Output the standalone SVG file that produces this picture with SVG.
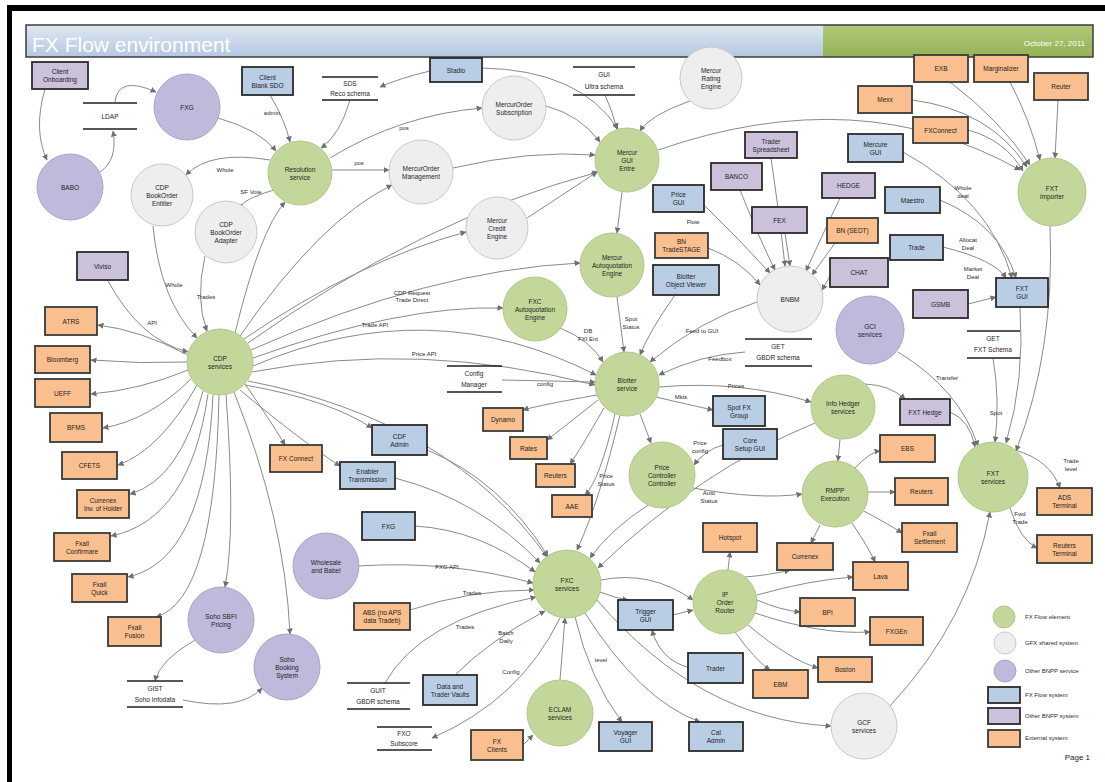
<svg xmlns="http://www.w3.org/2000/svg" width="1105" height="782" viewBox="0 0 1105 782">
<defs>
<linearGradient id="tb" x1="0" y1="0" x2="0" y2="1"><stop offset="0" stop-color="#dfe8f3"/><stop offset="1" stop-color="#b3c8e0"/></linearGradient>
<linearGradient id="tg" x1="0" y1="0" x2="0" y2="1"><stop offset="0" stop-color="#b0c97a"/><stop offset="1" stop-color="#94b254"/></linearGradient>
<marker id="a" markerWidth="6" markerHeight="6" refX="5.5" refY="3" orient="auto" markerUnits="userSpaceOnUse"><path d="M0,0 L6,3 L0,6 z" fill="#6f6f6f"/></marker>
</defs>
<style>
.t{font-family:"Liberation Sans",Arial,sans-serif;font-size:6.5px;fill:#1e1e1e;text-anchor:middle}
.l{font-family:"Liberation Sans",Arial,sans-serif;font-size:6px;fill:#2a2a2a;text-anchor:middle}
.cg{fill:#c4d79b;stroke:#b2c78a;stroke-width:1}
.cw{fill:#eeeeee;stroke:#c9c9c9;stroke-width:1}
.cp{fill:#bfb9dc;stroke:#aaa4cc;stroke-width:1}
.rb{fill:#b9cde4;stroke:#2b2b2b;stroke-width:1.8}
.rp{fill:#ccc1da;stroke:#2b2b2b;stroke-width:1.8}
.ro{fill:#f9bf8f;stroke:#3a3a3a;stroke-width:1.8}
.ds{stroke:#1e1e1e;stroke-width:1.6}
#edges path{fill:none;stroke:#8a8a8a;stroke-width:1;marker-end:url(#a)}
</style>
<rect width="1105" height="782" fill="#ffffff"/>
<rect x="7" y="5" width="1098" height="6" fill="#000"/>
<rect x="7" y="5" width="5" height="777" fill="#000"/>
<g id="title">
<rect x="26" y="25" width="797" height="32" fill="url(#tb)"/>
<rect x="823" y="25" width="270" height="32" fill="url(#tg)"/>
<rect x="26" y="25" width="1067" height="32" fill="none" stroke="#3c3c3c" stroke-width="1.5"/>
<text x="32" y="52" style="font-family:'Liberation Sans',Arial,sans-serif;font-size:21px;fill:#ffffff">FX Flow environment</text>
<text x="1085" y="46" style="font-family:'Liberation Sans',Arial,sans-serif;font-size:8px;fill:#ffffff;text-anchor:end">October 27, 2011</text>
</g>
<g id="edges">
<path d="M45 89 Q33 130 47 160"/>
<path d="M100 172 Q118 160 113 131"/>
<path d="M115 102 Q118 75 156 92"/>
<path d="M108 281 Q140 340 188 352"/>
<path d="M188 355 Q140 330 98 325"/>
<path d="M187 362 Q140 364 91 360"/>
<path d="M188 370 Q140 390 91 394"/>
<path d="M192 378 Q150 420 103 428"/>
<path d="M197 385 Q160 450 118 465"/>
<path d="M203 391 Q180 480 130 494"/>
<path d="M208 394 Q190 520 111 536"/>
<path d="M213 395 Q205 560 128 577"/>
<path d="M219 395 Q215 600 156 617"/>
<path d="M226 395 Q236 530 225 587"/>
<path d="M234 392 Q285 520 290 634"/>
<path d="M245 384 Q270 420 285 445"/>
<path d="M153 226 Q160 300 197 338"/>
<path d="M205 256 Q195 300 207 331"/>
<path d="M270 160 Q210 150 186 175"/>
<path d="M274 190 Q240 200 240 209"/>
<path d="M218 118 Q260 130 276 151"/>
<path d="M270 95 Q285 120 290 142"/>
<path d="M350 100 Q340 135 321 148"/>
<path d="M332 170 L389 170"/>
<path d="M330 158 Q400 115 482 108"/>
<path d="M430 71 Q400 78 380 87"/>
<path d="M482 68 Q580 70 618 129"/>
<path d="M605 95 Q612 110 617 129"/>
<path d="M690 101 Q650 115 640 131"/>
<path d="M546 106 Q580 115 600 142"/>
<path d="M453 168 Q530 150 595 155"/>
<path d="M527 218 Q570 190 597 172"/>
<path d="M622 192 L617 233"/>
<path d="M658 150 Q860 80 1020 170"/>
<path d="M235 333 Q260 230 285 202"/>
<path d="M240 336 Q320 220 392 185"/>
<path d="M244 339 Q360 260 466 232"/>
<path d="M248 343 Q420 220 598 172"/>
<path d="M251 350 Q430 270 580 263"/>
<path d="M253 358 Q400 305 503 308"/>
<path d="M253 366 Q430 290 596 375"/>
<path d="M252 372 Q420 340 595 385"/>
<path d="M248 381 Q450 420 547 557"/>
<path d="M245 385 Q330 400 372 428"/>
<path d="M240 390 Q300 440 340 466"/>
<path d="M427 450 Q500 480 548 556"/>
<path d="M395 478 Q480 500 540 563"/>
<path d="M415 526 Q480 530 535 572"/>
<path d="M358 566 Q450 560 533 583"/>
<path d="M410 610 Q470 590 534 590"/>
<path d="M385 683 Q420 620 536 597"/>
<path d="M455 675 Q490 640 545 611"/>
<path d="M560 618 Q520 700 432 738"/>
<path d="M560 680 L565 618"/>
<path d="M523 745 L533 735"/>
<path d="M575 617 Q590 680 622 722"/>
<path d="M585 613 Q640 700 700 722"/>
<path d="M597 600 Q700 720 831 726"/>
<path d="M601 580 Q650 570 693 600"/>
<path d="M600 592 Q615 598 628 600"/>
<path d="M673 615 L693 610"/>
<path d="M690 668 Q660 660 652 630"/>
<path d="M648 505 Q610 530 590 558"/>
<path d="M620 415 Q600 500 577 550"/>
<path d="M815 423 Q700 470 598 568"/>
<path d="M597 395 Q540 405 523 410"/>
<path d="M598 400 Q560 430 547 440"/>
<path d="M604 408 Q580 450 570 464"/>
<path d="M615 414 Q600 480 585 495"/>
<path d="M502 380 L595 382"/>
<path d="M560 328 Q590 340 603 362"/>
<path d="M617 297 L624 352"/>
<path d="M675 295 Q650 330 640 355"/>
<path d="M757 302 Q700 320 650 362"/>
<path d="M745 352 Q700 355 659 375"/>
<path d="M659 387 Q740 380 811 402"/>
<path d="M656 397 Q690 405 713 410"/>
<path d="M640 414 L651 443"/>
<path d="M723 445 Q705 450 694 465"/>
<path d="M693 488 Q760 500 802 494"/>
<path d="M704 205 Q740 240 770 273"/>
<path d="M708 248 Q740 260 760 285"/>
<path d="M771 158 Q780 220 785 266"/>
<path d="M740 190 Q760 240 775 270"/>
<path d="M785 233 L790 266"/>
<path d="M840 198 Q820 240 806 271"/>
<path d="M835 243 L812 275"/>
<path d="M830 276 L822 290"/>
<path d="M903 152 Q990 200 1012 278"/>
<path d="M940 200 Q1000 225 1016 278"/>
<path d="M943 247 Q995 260 1006 278"/>
<path d="M968 304 L996 297"/>
<path d="M1020 307 Q1025 380 1006 443"/>
<path d="M1050 226 Q1055 350 1016 451"/>
<path d="M950 82 Q1000 120 1030 165"/>
<path d="M1010 82 Q1030 120 1040 160"/>
<path d="M1058 100 L1055 158"/>
<path d="M912 100 Q990 110 1027 167"/>
<path d="M968 130 Q1005 140 1023 171"/>
<path d="M898 352 Q960 390 978 446"/>
<path d="M993 358 Q1000 400 995 442"/>
<path d="M950 412 Q970 420 975 447"/>
<path d="M865 384 Q890 385 905 399"/>
<path d="M1015 450 Q1050 460 1060 488"/>
<path d="M1010 508 Q1020 540 1037 548"/>
<path d="M890 706 Q970 620 990 512"/>
<path d="M840 439 L838 461"/>
<path d="M855 468 Q870 452 880 451"/>
<path d="M868 492 L895 492"/>
<path d="M862 510 Q890 525 902 533"/>
<path d="M852 523 Q870 550 875 562"/>
<path d="M820 525 L811 543"/>
<path d="M728 570 L730 552"/>
<path d="M745 577 Q770 575 790 570"/>
<path d="M757 600 Q780 610 800 612"/>
<path d="M755 613 Q820 635 870 632"/>
<path d="M748 625 Q790 660 818 668"/>
<path d="M735 632 Q755 660 770 670"/>
<path d="M757 595 Q810 580 853 577"/>
<path d="M195 640 Q160 660 155 681"/>
<path d="M183 700 Q240 712 262 688"/>
</g>
<g id="edge-labels">
<text class="l" x="272" y="115">admin</text>
<text class="l" x="225" y="172">Whole</text>
<text class="l" x="251" y="194">SF Vote</text>
<text class="l" x="404" y="130">pos</text>
<text class="l" x="359" y="165">pos</text>
<text class="l" x="693" y="224">Flow</text>
<text class="l" x="963" y="190">Whole</text><text class="l" x="963" y="198">deal</text>
<text class="l" x="968" y="242">Allocat</text><text class="l" x="968" y="250">Deal</text>
<text class="l" x="973" y="271">Market</text><text class="l" x="973" y="279">Deal</text>
<text class="l" x="174" y="287">Whole</text>
<text class="l" x="206" y="299">Trades</text>
<text class="l" x="152" y="325">API</text>
<text class="l" x="412" y="295">CDP Request</text><text class="l" x="412" y="302">Trade Direct</text>
<text class="l" x="375" y="327">Trade API</text>
<text class="l" x="424" y="356">Price API</text>
<text class="l" x="545" y="386">config</text>
<text class="l" x="588" y="333">DB</text><text class="l" x="588" y="341">FXI Ent</text>
<text class="l" x="631" y="321">Spot</text><text class="l" x="631" y="329">Status</text>
<text class="l" x="702" y="333">Feed to GUI</text>
<text class="l" x="720" y="361">Feedbox</text>
<text class="l" x="736" y="388">Prices</text>
<text class="l" x="681" y="399">Mkts</text>
<text class="l" x="700" y="445">Price</text><text class="l" x="700" y="453">config</text>
<text class="l" x="606" y="478">Price</text><text class="l" x="606" y="486">Status</text>
<text class="l" x="709" y="495">Auto</text><text class="l" x="709" y="503">Status</text>
<text class="l" x="947" y="380">Transfer</text>
<text class="l" x="996" y="415">Spot</text>
<text class="l" x="1071" y="463">Trade</text><text class="l" x="1071" y="471">level</text>
<text class="l" x="1020" y="516">Fwd</text><text class="l" x="1020" y="524">Trade</text>
<text class="l" x="447" y="569">FXG API</text>
<text class="l" x="472" y="595">Trades</text>
<text class="l" x="465" y="629">Trades</text>
<text class="l" x="506" y="635">Batch</text><text class="l" x="506" y="643">Daily</text>
<text class="l" x="511" y="674">Config</text>
<text class="l" x="601" y="662">level</text>
</g>
<g id="datastores">
<g id="ds-ldap"><line class="ds" x1="83" y1="103" x2="137" y2="103"/><line class="ds" x1="83" y1="129" x2="137" y2="129"/><text class="t" x="110" y="119">LDAP</text></g>
<g id="ds-reco"><line class="ds" x1="322" y1="77" x2="378" y2="77"/><line class="ds" x1="322" y1="100" x2="378" y2="100"/><text class="t" x="350" y="86">SDS</text><text class="t" x="350" y="96">Reco schema</text></g>
<g id="ds-ultra"><line class="ds" x1="573" y1="67" x2="635" y2="67"/><line class="ds" x1="573" y1="95" x2="635" y2="95"/><text class="t" x="604" y="77">GUI</text><text class="t" x="604" y="89">Ultra schema</text></g>
<g id="ds-gbdr1"><line class="ds" x1="745" y1="339" x2="812" y2="339"/><line class="ds" x1="745" y1="366" x2="812" y2="366"/><text class="t" x="778" y="349">GET</text><text class="t" x="778" y="360">GBDR schema</text></g>
<g id="ds-fxt"><line class="ds" x1="967" y1="331" x2="1020" y2="331"/><line class="ds" x1="967" y1="358" x2="1020" y2="358"/><text class="t" x="993" y="341">GET</text><text class="t" x="993" y="352">FXT Schema</text></g>
<g id="ds-config"><line class="ds" x1="447" y1="366" x2="502" y2="366"/><line class="ds" x1="447" y1="392" x2="502" y2="392"/><text class="t" x="474" y="376">Config</text><text class="t" x="474" y="387">Manager</text></g>
<g id="ds-soho"><line class="ds" x1="127" y1="681" x2="183" y2="681"/><line class="ds" x1="127" y1="707" x2="183" y2="707"/><text class="t" x="155" y="691">GIST</text><text class="t" x="155" y="702">Soho Infodata</text></g>
<g id="ds-gbdr2"><line class="ds" x1="347" y1="683" x2="410" y2="683"/><line class="ds" x1="347" y1="709" x2="410" y2="709"/><text class="t" x="378" y="693">GUIT</text><text class="t" x="378" y="704">GBDR schema</text></g>
<g id="ds-fxo"><line class="ds" x1="377" y1="727" x2="432" y2="727"/><line class="ds" x1="377" y1="750" x2="432" y2="750"/><text class="t" x="404" y="736">FXO</text><text class="t" x="404" y="746">Subscore</text></g>
</g>
<g id="c_fxg"><circle class="cp" cx="187" cy="107" r="33"/><text class="t" x="187" y="109.5">FXG</text></g>
<g id="c_babo"><circle class="cp" cx="70" cy="187" r="33"/><text class="t" x="70" y="189.5">BABO</text></g>
<g id="c_gci"><circle class="cp" cx="870" cy="330" r="34"/><text class="t" x="870" y="328.5">GCI</text><text class="t" x="870" y="336.5">services</text></g>
<g id="c_wholesale"><circle class="cp" cx="326" cy="566" r="33"/><text class="t" x="326" y="564.5">Wholesale</text><text class="t" x="326" y="572.5">and Babel</text></g>
<g id="c_sohopricing"><circle class="cp" cx="221" cy="620" r="33"/><text class="t" x="221" y="618.5">Soho SBFI</text><text class="t" x="221" y="626.5">Pricing</text></g>
<g id="c_sohobooking"><circle class="cp" cx="287" cy="667" r="33"/><text class="t" x="287" y="661.5">Soho</text><text class="t" x="287" y="669.5">Booking</text><text class="t" x="287" y="677.5">System</text></g>
<g id="c_cdpent"><circle class="cw" cx="162" cy="195" r="31"/><text class="t" x="162" y="189.5">CDP</text><text class="t" x="162" y="197.5">BookOrder</text><text class="t" x="162" y="205.5">Entitler</text></g>
<g id="c_cdpadapt"><circle class="cw" cx="226" cy="232" r="31"/><text class="t" x="226" y="226.5">CDP</text><text class="t" x="226" y="234.5">BookOrder</text><text class="t" x="226" y="242.5">Adapter</text></g>
<g id="c_mos"><circle class="cw" cx="514" cy="108" r="32"/><text class="t" x="514" y="106.5">MercurOrder</text><text class="t" x="514" y="114.5">Subscription</text></g>
<g id="c_mom"><circle class="cw" cx="421" cy="172" r="32"/><text class="t" x="421" y="170.5">MercurOrder</text><text class="t" x="421" y="178.5">Management</text></g>
<g id="c_mce"><circle class="cw" cx="497" cy="228" r="31"/><text class="t" x="497" y="222.5">Mercur</text><text class="t" x="497" y="230.5">Credit</text><text class="t" x="497" y="238.5">Engine</text></g>
<g id="c_mre"><circle class="cw" cx="711" cy="78" r="31"/><text class="t" x="711" y="72.5">Mercur</text><text class="t" x="711" y="80.5">Rating</text><text class="t" x="711" y="88.5">Engine</text></g>
<g id="c_bnbm"><circle class="cw" cx="790" cy="299" r="33"/><text class="t" x="790" y="301.5">BNBM</text></g>
<g id="c_gcf"><circle class="cw" cx="864" cy="726" r="33"/><text class="t" x="864" y="724.5">GCF</text><text class="t" x="864" y="732.5">services</text></g>
<g id="c_res"><circle class="cg" cx="300" cy="173" r="32"/><text class="t" x="300" y="171.5">Resolution</text><text class="t" x="300" y="179.5">service</text></g>
<g id="c_mge"><circle class="cg" cx="627" cy="160" r="32"/><text class="t" x="627" y="154.5">Mercur</text><text class="t" x="627" y="162.5">GUI</text><text class="t" x="627" y="170.5">Entre</text></g>
<g id="c_mae"><circle class="cg" cx="612" cy="265" r="32"/><text class="t" x="612" y="259.5">Mercur</text><text class="t" x="612" y="267.5">Autoquotation</text><text class="t" x="612" y="275.5">Engine</text></g>
<g id="c_fae"><circle class="cg" cx="535" cy="309" r="32"/><text class="t" x="535" y="303.5">FXC</text><text class="t" x="535" y="311.5">Autoquotation</text><text class="t" x="535" y="319.5">Engine</text></g>
<g id="c_cdp"><circle class="cg" cx="220" cy="362" r="33"/><text class="t" x="220" y="360.5">CDP</text><text class="t" x="220" y="368.5">services</text></g>
<g id="c_blot"><circle class="cg" cx="627" cy="384" r="32"/><text class="t" x="627" y="382.5">Blotter</text><text class="t" x="627" y="390.5">service</text></g>
<g id="c_pcc"><circle class="cg" cx="662" cy="475" r="33"/><text class="t" x="662" y="469.5">Price</text><text class="t" x="662" y="477.5">Controller</text><text class="t" x="662" y="485.5">Controller</text></g>
<g id="c_ihs"><circle class="cg" cx="843" cy="407" r="32"/><text class="t" x="843" y="405.5">Info Hedger</text><text class="t" x="843" y="413.5">services</text></g>
<g id="c_rmpp"><circle class="cg" cx="835" cy="494" r="33"/><text class="t" x="835" y="492.5">RMPP</text><text class="t" x="835" y="500.5">Execution</text></g>
<g id="c_fxt"><circle class="cg" cx="993" cy="477" r="35"/><text class="t" x="993" y="475.5">FXT</text><text class="t" x="993" y="483.5">services</text></g>
<g id="c_fxti"><circle class="cg" cx="1052" cy="192" r="34"/><text class="t" x="1052" y="190.5">FXT</text><text class="t" x="1052" y="198.5">importer</text></g>
<g id="c_fxc"><circle class="cg" cx="567" cy="584" r="34"/><text class="t" x="567" y="582.5">FXC</text><text class="t" x="567" y="590.5">services</text></g>
<g id="c_ipor"><circle class="cg" cx="725" cy="602" r="32"/><text class="t" x="725" y="596.5">IP</text><text class="t" x="725" y="604.5">Order</text><text class="t" x="725" y="612.5">Router</text></g>
<g id="c_eclam"><circle class="cg" cx="560" cy="713" r="33"/><text class="t" x="560" y="711.5">ECLAM</text><text class="t" x="560" y="719.5">services</text></g>
<g id="r_onb"><rect class="rp" x="32" y="62" width="56" height="27"/><text class="t" x="60" y="74">Client</text><text class="t" x="60" y="82">Onboarding</text></g>
<g id="r_viv"><rect class="rp" x="77" y="252" width="51" height="28"/><text class="t" x="102.5" y="268.5">Viviso</text></g>
<g id="r_tsp"><rect class="rp" x="745" y="132" width="52" height="26"/><text class="t" x="771" y="143.5">Trader</text><text class="t" x="771" y="151.5">Spreadsheet</text></g>
<g id="r_banco"><rect class="rp" x="711" y="163" width="51" height="27"/><text class="t" x="736.5" y="179">BANCO</text></g>
<g id="r_fex"><rect class="rp" x="752" y="207" width="55" height="26"/><text class="t" x="779.5" y="222.5">FEX</text></g>
<g id="r_hedge"><rect class="rp" x="822" y="173" width="53" height="25"/><text class="t" x="848.5" y="188">HEDGE</text></g>
<g id="r_chat"><rect class="rp" x="830" y="258" width="58" height="29"/><text class="t" x="859" y="275">CHAT</text></g>
<g id="r_gsmb"><rect class="rp" x="913" y="290" width="55" height="28"/><text class="t" x="940.5" y="306.5">GSMB</text></g>
<g id="r_fxth"><rect class="rp" x="900" y="399" width="50" height="26"/><text class="t" x="925" y="414.5">FXT Hedge</text></g>
<g id="r_cbs"><rect class="rb" x="242" y="67" width="51" height="28"/><text class="t" x="267.5" y="79.5">Client</text><text class="t" x="267.5" y="87.5">Blank SDO</text></g>
<g id="r_stadio"><rect class="rb" x="430" y="58" width="52" height="24"/><text class="t" x="456" y="72.5">Stadio</text></g>
<g id="r_pgui"><rect class="rb" x="653" y="185" width="51" height="27"/><text class="t" x="678.5" y="197">Price</text><text class="t" x="678.5" y="205">GUI</text></g>
<g id="r_mgui"><rect class="rb" x="848" y="134" width="55" height="28"/><text class="t" x="875.5" y="146.5">Mercure</text><text class="t" x="875.5" y="154.5">GUI</text></g>
<g id="r_maestro"><rect class="rb" x="885" y="187" width="55" height="26"/><text class="t" x="912.5" y="202.5">Maestro</text></g>
<g id="r_trade"><rect class="rb" x="890" y="235" width="53" height="25"/><text class="t" x="916.5" y="250">Trade</text></g>
<g id="r_fxtgui"><rect class="rb" x="996" y="278" width="52" height="29"/><text class="t" x="1022" y="291">FXT</text><text class="t" x="1022" y="299">GUI</text></g>
<g id="r_bov"><rect class="rb" x="653" y="265" width="66" height="30"/><text class="t" x="686" y="278.5">Blotter</text><text class="t" x="686" y="286.5">Object Viewer</text></g>
<g id="r_sfx"><rect class="rb" x="713" y="396" width="52" height="30"/><text class="t" x="739" y="409.5">Spot FX</text><text class="t" x="739" y="417.5">Group</text></g>
<g id="r_csg"><rect class="rb" x="723" y="429" width="54" height="30"/><text class="t" x="750" y="442.5">Core</text><text class="t" x="750" y="450.5">Setup GUI</text></g>
<g id="r_cdfa"><rect class="rb" x="372" y="425" width="55" height="30"/><text class="t" x="399.5" y="438.5">CDF</text><text class="t" x="399.5" y="446.5">Admin</text></g>
<g id="r_enab"><rect class="rb" x="340" y="462" width="55" height="27"/><text class="t" x="367.5" y="474">Enabler</text><text class="t" x="367.5" y="482">Transmission</text></g>
<g id="r_fxgb"><rect class="rb" x="362" y="512" width="53" height="28"/><text class="t" x="388.5" y="528.5">FXG</text></g>
<g id="r_trig"><rect class="rb" x="618" y="600" width="55" height="30"/><text class="t" x="645.5" y="613.5">Trigger</text><text class="t" x="645.5" y="621.5">GUI</text></g>
<g id="r_trader"><rect class="rb" x="688" y="653" width="55" height="30"/><text class="t" x="715.5" y="670.5">Trader</text></g>
<g id="r_vault"><rect class="rb" x="423" y="675" width="54" height="30"/><text class="t" x="450" y="688.5">Data and</text><text class="t" x="450" y="696.5">Trader Vaults</text></g>
<g id="r_voy"><rect class="rb" x="599" y="722" width="53" height="29"/><text class="t" x="625.5" y="735">Voyager</text><text class="t" x="625.5" y="743">GUI</text></g>
<g id="r_cal"><rect class="rb" x="689" y="722" width="54" height="29"/><text class="t" x="716" y="735">Cal</text><text class="t" x="716" y="743">Admin</text></g>
<g id="r_exb"><rect class="ro" x="914" y="55" width="54" height="27"/><text class="t" x="941" y="71">EXB</text></g>
<g id="r_marg"><rect class="ro" x="974" y="55" width="54" height="27"/><text class="t" x="1001" y="71">Marginalizer</text></g>
<g id="r_reut"><rect class="ro" x="1034" y="73" width="54" height="27"/><text class="t" x="1061" y="89">Reuter</text></g>
<g id="r_mexx"><rect class="ro" x="858" y="86" width="54" height="27"/><text class="t" x="885" y="102">Mexx</text></g>
<g id="r_fxcon"><rect class="ro" x="913" y="117" width="55" height="26"/><text class="t" x="940.5" y="132.5">FXConnect</text></g>
<g id="r_bnsedt"><rect class="ro" x="827" y="218" width="51" height="25"/><text class="t" x="852.5" y="233">BN (SEDT)</text></g>
<g id="r_bnts"><rect class="ro" x="655" y="233" width="53" height="25"/><text class="t" x="681.5" y="244">BN</text><text class="t" x="681.5" y="252">TradeSTAGE</text></g>
<g id="r_atrs"><rect class="ro" x="45" y="307" width="52" height="28"/><text class="t" x="71" y="323.5">ATRS</text></g>
<g id="r_bloom"><rect class="ro" x="35" y="346" width="55" height="27"/><text class="t" x="62.5" y="362">Bloomberg</text></g>
<g id="r_ueff"><rect class="ro" x="35" y="379" width="55" height="28"/><text class="t" x="62.5" y="395.5">UEFF</text></g>
<g id="r_bfms"><rect class="ro" x="50" y="413" width="52" height="29"/><text class="t" x="76" y="430">BFMS</text></g>
<g id="r_cfets"><rect class="ro" x="62" y="452" width="55" height="27"/><text class="t" x="89.5" y="468">CFETS</text></g>
<g id="r_curinv"><rect class="ro" x="77" y="490" width="52" height="28"/><text class="t" x="103" y="502.5">Currenex</text><text class="t" x="103" y="510.5">Inv. of Holder</text></g>
<g id="r_fxconf"><rect class="ro" x="54" y="533" width="56" height="28"/><text class="t" x="82" y="545.5">Fxall</text><text class="t" x="82" y="553.5">Confirmare</text></g>
<g id="r_fxq"><rect class="ro" x="72" y="574" width="55" height="28"/><text class="t" x="99.5" y="586.5">Fxall</text><text class="t" x="99.5" y="594.5">Quick</text></g>
<g id="r_fxf"><rect class="ro" x="108" y="617" width="53" height="29"/><text class="t" x="134.5" y="630">Fxall</text><text class="t" x="134.5" y="638">Fusion</text></g>
<g id="r_fxconn2"><rect class="ro" x="270" y="445" width="52" height="27"/><text class="t" x="296" y="461">FX Connect</text></g>
<g id="r_dyn"><rect class="ro" x="483" y="408" width="40" height="23"/><text class="t" x="503" y="422">Dynamo</text></g>
<g id="r_rates"><rect class="ro" x="510" y="437" width="37" height="22"/><text class="t" x="528.5" y="450.5">Rates</text></g>
<g id="r_reuters1"><rect class="ro" x="536" y="464" width="39" height="23"/><text class="t" x="555.5" y="478">Reuters</text></g>
<g id="r_aae"><rect class="ro" x="552" y="495" width="40" height="22"/><text class="t" x="572" y="508.5">AAE</text></g>
<g id="r_ebs"><rect class="ro" x="880" y="435" width="55" height="27"/><text class="t" x="907.5" y="451">EBS</text></g>
<g id="r_reuters2"><rect class="ro" x="895" y="478" width="53" height="27"/><text class="t" x="921.5" y="494">Reuters</text></g>
<g id="r_fxset"><rect class="ro" x="902" y="523" width="55" height="29"/><text class="t" x="929.5" y="536">Fxall</text><text class="t" x="929.5" y="544">Settlement</text></g>
<g id="r_ads"><rect class="ro" x="1037" y="488" width="55" height="27"/><text class="t" x="1064.5" y="500">ADS</text><text class="t" x="1064.5" y="508">Terminal</text></g>
<g id="r_rterm"><rect class="ro" x="1037" y="535" width="55" height="28"/><text class="t" x="1064.5" y="547.5">Reuters</text><text class="t" x="1064.5" y="555.5">Terminal</text></g>
<g id="r_hot"><rect class="ro" x="703" y="523" width="54" height="29"/><text class="t" x="730" y="540">Hotspot</text></g>
<g id="r_curx"><rect class="ro" x="777" y="543" width="56" height="27"/><text class="t" x="805" y="559">Currenex</text></g>
<g id="r_lava"><rect class="ro" x="853" y="562" width="55" height="28"/><text class="t" x="880.5" y="578.5">Lava</text></g>
<g id="r_bpi"><rect class="ro" x="800" y="598" width="55" height="28"/><text class="t" x="827.5" y="614.5">BPI</text></g>
<g id="r_fxgen"><rect class="ro" x="870" y="617" width="53" height="28"/><text class="t" x="896.5" y="633.5">FXGEn</text></g>
<g id="r_boston"><rect class="ro" x="818" y="657" width="54" height="25"/><text class="t" x="845" y="672">Boston</text></g>
<g id="r_ebm"><rect class="ro" x="753" y="670" width="55" height="28"/><text class="t" x="780.5" y="686.5">EBM</text></g>
<g id="r_abs"><rect class="ro" x="354" y="603" width="56" height="27"/><text class="t" x="382" y="615">ABS (no APS</text><text class="t" x="382" y="623">data Tradeb)</text></g>
<g id="r_fxcl"><rect class="ro" x="471" y="730" width="52" height="30"/><text class="t" x="497" y="743.5">FX</text><text class="t" x="497" y="751.5">Clients</text></g>
<g id="legend">
<circle class="cg" cx="1004" cy="617" r="11"/><text class="l" x="1025" y="619" style="text-anchor:start">FX Flow element</text>
<circle class="cw" cx="1005" cy="643" r="11"/><text class="l" x="1025" y="645" style="text-anchor:start">GFX shared system</text>
<circle class="cp" cx="1005" cy="671" r="11"/><text class="l" x="1025" y="673" style="text-anchor:start">Other BNPP service</text>
<rect class="rb" x="988" y="687" width="32" height="16"/><text class="l" x="1025" y="697" style="text-anchor:start">FX Flow system</text>
<rect class="rp" x="988" y="708" width="32" height="16"/><text class="l" x="1025" y="718" style="text-anchor:start">Other BNPP system</text>
<rect class="ro" x="988" y="730" width="32" height="17"/><text class="l" x="1025" y="740" style="text-anchor:start">External system</text>
<text x="1090" y="760" style="font-family:'Liberation Sans',Arial,sans-serif;font-size:8px;fill:#222;text-anchor:end">Page 1</text>
</g>
</svg>
